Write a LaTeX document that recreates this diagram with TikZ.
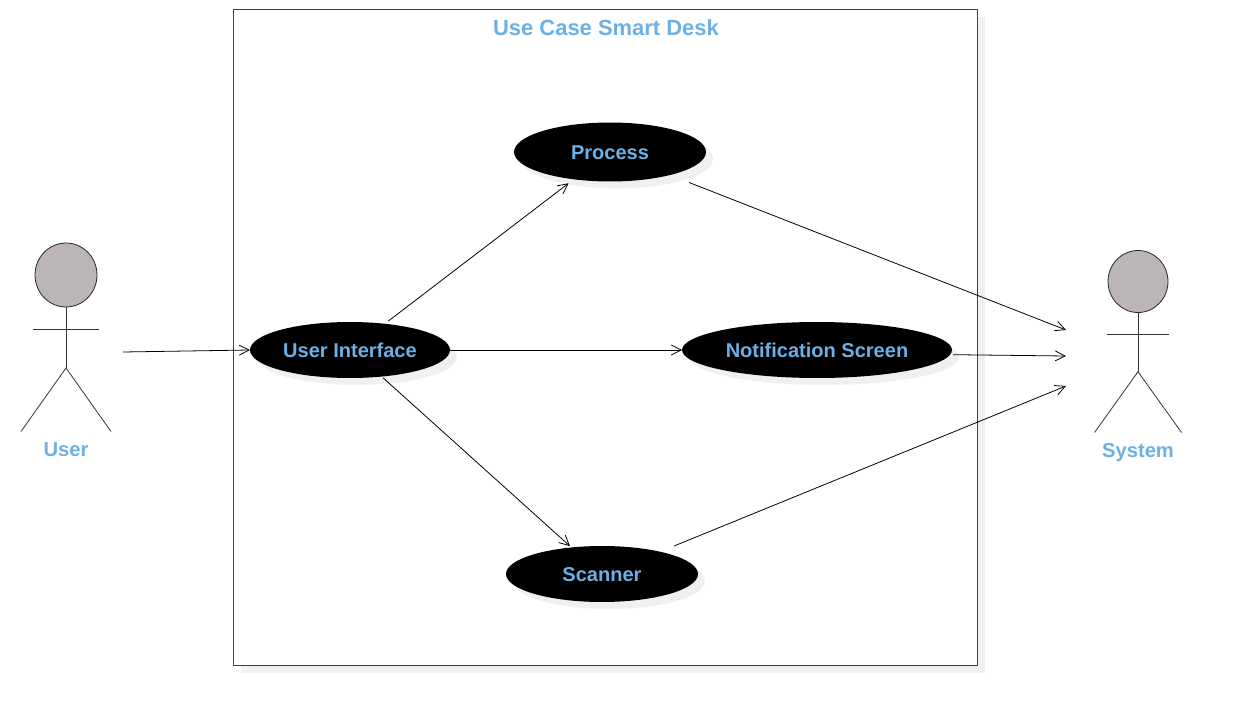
\documentclass[tikz,border=0pt]{standalone}
\usepackage{fontspec}
\setmainfont{Liberation Sans}
\usetikzlibrary{shapes.geometric,shadows,arrows.meta}

\definecolor{labelblue}{HTML}{6CB0E8}
\definecolor{headgray}{HTML}{BBB5B5}
\definecolor{shadowgray}{HTML}{F0F0F0}

\tikzset{
    softshadow/.style={drop shadow={shadow xshift=0.14cm, shadow yshift=-0.14cm, fill=shadowgray, opacity=1}},
    frame/.style={draw=black!75, line width=0.5pt, fill=white, rectangle, inner sep=0, outer sep=0, minimum width=14.88cm, minimum height=13.12cm, softshadow},
    usecase/.style={ellipse, fill=black, text=labelblue, font=\bfseries\fontsize{11.4}{13}\selectfont, text height=9pt, text depth=0pt, inner sep=0, outer sep=0, minimum height=1.12cm, softshadow},
    head/.style={ellipse, draw=black!85, line width=0.45pt, fill=headgray, inner sep=0, outer sep=0},
    actorlabel/.style={text=labelblue, font=\bfseries\fontsize{11.5}{13}\selectfont, inner sep=0},
    stick/.style={draw=black!80, line width=0.45pt},
    flow/.style={draw=black, line width=0.45pt, -{Straight Barb[length=0.2cm, width=0.2cm, line width=0.45pt]}}
}

\begin{document}
\begin{tikzpicture}[x=0.02cm, y=-0.02cm]
    \useasboundingbox (0,0) rectangle (1250,706);

    % System boundary
    \node[frame] (desk) at (605.6,337.6) {};
    \node[text=labelblue, font=\bfseries\fontsize{12.5}{14}\selectfont, inner sep=0] (desktitle) at (606,27.5) {Use Case Smart Desk};

    % Use cases
    \node[usecase, minimum width=4cm] (interface) at (350,350) {User Interface};
    \node[usecase, minimum width=3.84cm, minimum height=1.18cm] (process) at (610,152) {Process};
    \node[usecase, minimum width=5.4cm] (notification) at (817,350) {Notification Screen};
    \node[usecase, minimum width=3.84cm] (scanner) at (602,574) {Scanner};

    % User
    \node[head, minimum width=1.24cm, minimum height=1.28cm] (userhead) at (66,275) {};
    \coordinate (userhip) at (66,368);
    \coordinate (userarml) at (33,329.5);
    \coordinate (userarmr) at (98.5,329.5);
    \coordinate (userlegl) at (21,431.5);
    \coordinate (userlegr) at (111,431.5);
    \draw[stick] (userhead.south) -- (userhip);
    \draw[stick] (userarml) -- (userarmr);
    \draw[stick] (userlegl) -- (userhip) -- (userlegr);
    \node[actorlabel] (userlabel) at (66,450) {User};

    % System
    \node[head, minimum width=1.2cm, minimum height=1.24cm] (systemhead) at (1138,281.5) {};
    \coordinate (systemhip) at (1138,371.7);
    \coordinate (systemarml) at (1106.5,334.7);
    \coordinate (systemarmr) at (1169,334.7);
    \coordinate (systemlegl) at (1094.5,432.5);
    \coordinate (systemlegr) at (1181.5,432.5);
    \draw[stick] (systemhead.south) -- (systemhip);
    \draw[stick] (systemarml) -- (systemarmr);
    \draw[stick] (systemlegl) -- (systemhip) -- (systemlegr);
    \node[actorlabel] (systemlabel) at (1138,453) {System};

    % ================================
    % Flows

    \coordinate (userout) at (123,352);
    \coordinate (systemin1) at (1066,330);
    \coordinate (systemin2) at (1066,356);
    \coordinate (systemin3) at (1066,386);

    \draw[flow] (userout) -- (interface.west);
    \draw[flow, shorten <=0.09cm, shorten >=0.13cm] (interface.37) -- (process.217);
    \draw[flow] (interface.east) -- (notification.west);
    \draw[flow, shorten <=0.04cm, shorten >=0.04cm] (interface.320) -- (scanner.139);

    \draw[flow, shorten <=0.41cm] (process.339.4) -- (systemin1);
    \draw[flow, shorten <=0.06cm] (notification.358.9) -- (systemin2);
    \draw[flow, shorten <=0.3cm] (scanner.21.9) -- (systemin3);
\end{tikzpicture}
\end{document}
